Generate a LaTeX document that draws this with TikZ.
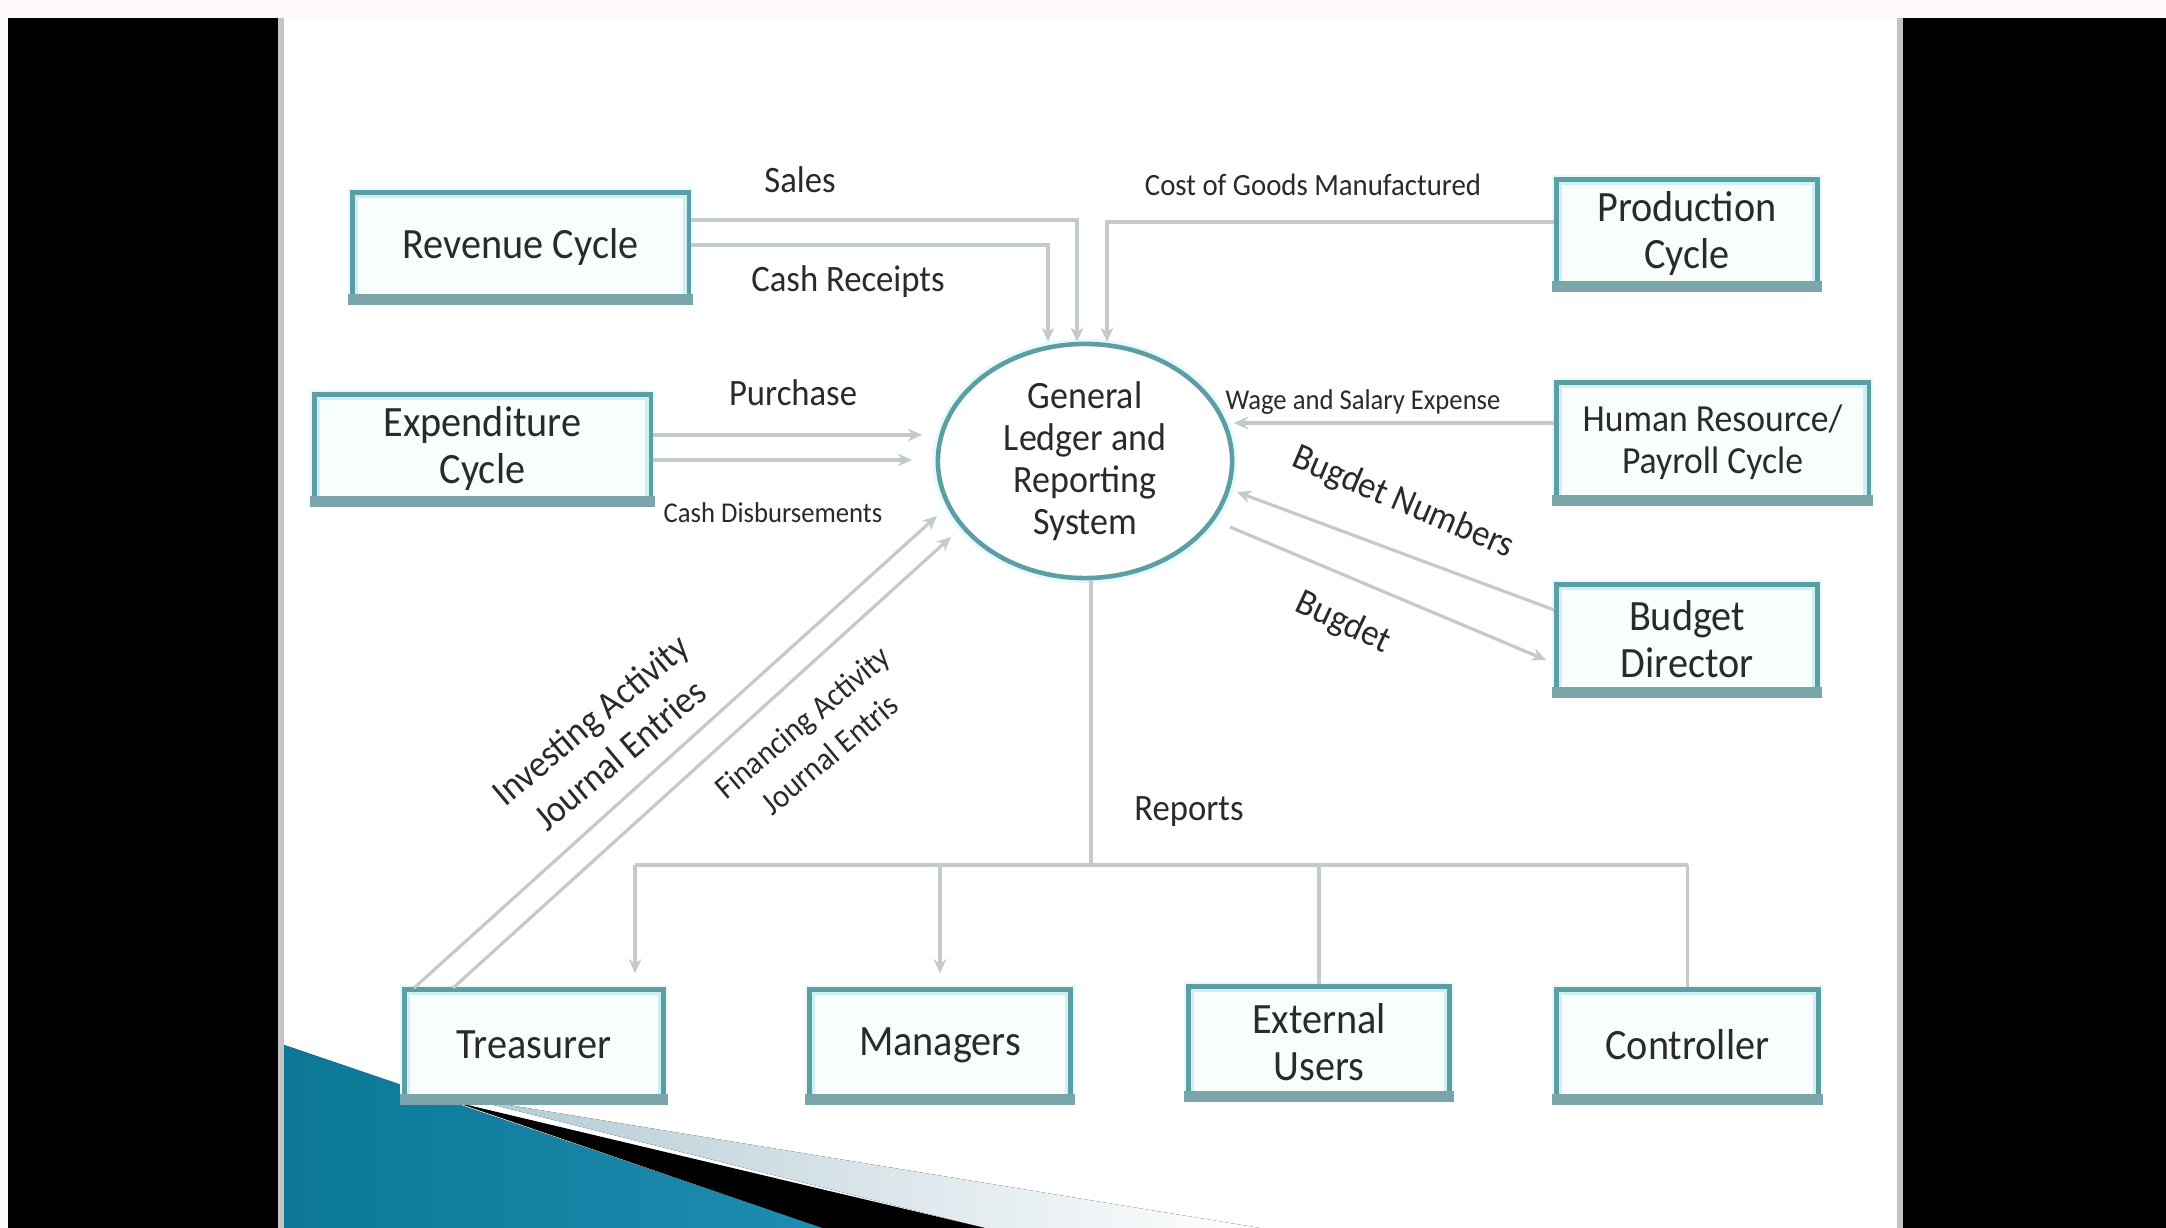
\documentclass[tikz,border=0pt]{standalone}
\usepackage{fontspec}
\setmainfont{Carlito}[FakeStretch=0.93]
\usetikzlibrary{arrows.meta,shapes.geometric}
\definecolor{boxteal}{HTML}{5C9EA3}
\definecolor{boxfill}{HTML}{F8FEFE}
\definecolor{boxin}{HTML}{CCF1F3}
\definecolor{boxbot}{HTML}{7AA5AA}
\definecolor{halo}{HTML}{E6FAFB}
\definecolor{lnc}{HTML}{C2CACA}
\definecolor{txt}{HTML}{2A2A2A}
\definecolor{topc}{HTML}{FCF8FB}
\definecolor{grl}{HTML}{C4C4C4}
\definecolor{blA}{HTML}{0C7896}
\definecolor{blB}{HTML}{55B9DA}
\definecolor{blC}{HTML}{1E8CB2}
\definecolor{lgt}{HTML}{B3CAD4}
\newcommand\bxf{\fontsize{12.3}{13.4}\selectfont}
\newcommand\hrf{\fontsize{10.9}{12}\selectfont}
\newcommand\glf{\fontsize{11}{12}\selectfont}
\newcommand\labf{\fontsize{10.6}{12}\selectfont}
\newcommand\smf{\fontsize{8.8}{10}\selectfont}
\newcommand\xsf{\fontsize{8.15}{9}\selectfont}
\newcommand\ivf{\fontsize{10.8}{13}\selectfont}
\newcommand\fif{\fontsize{9.3}{12}\selectfont}
\begin{document}
\begin{tikzpicture}[x=0.01cm,y=-0.01cm,
  box/.style={rectangle, draw=boxteal, line width=1.5pt, fill=boxfill, inner sep=0pt,
    align=center, text=txt, font=\bxf, preaction={draw=halo, line width=2.6pt}},
  lab/.style={inner sep=0pt, text=txt, font=\labf, align=center},
  arr/.style={draw=lnc, line width=0.9pt, -{Stealth[length=4pt,width=3.6pt]}},
  ln/.style={draw=lnc, line width=0.9pt}]
\useasboundingbox (0,0) rectangle (2166,1228);
% frame
\fill[topc] (0,0) rectangle (2166,1228);
\fill[black] (8,18) rectangle (278,1228);
\fill[grl] (278,18) rectangle (284,1228);
\fill[white] (284,18) rectangle (1897,1228);
\fill[grl] (1897,18) rectangle (1903,1228);
\fill[black] (1903,18) rectangle (2166,1228);
% corner decoration
\fill[left color=lgt, right color=white] (466,1098) -- (1260,1228) -- (985,1228) -- cycle;
\fill[black] (455,1102) -- (985,1228) -- (822,1228) -- cycle;
\fill[left color=blA, middle color=blB, right color=blC] (284,1045) -- (822,1228) -- (284,1228) -- cycle;
% nodes
\node[box, minimum width=3.35cm, minimum height=1.07cm] (rev) at (520.5,246.5) {Revenue Cycle};
\node[box, minimum width=3.35cm, minimum height=1.07cm] (exp) at (482.5,448.5) {Expenditure\\Cycle};
\node[box, minimum width=2.60cm, minimum height=1.07cm] (prod) at (1687,233.5) {Production\\Cycle};
\node[box, minimum width=3.11cm, minimum height=1.18cm, font=\hrf] (hr) at (1712.5,442) {Human Resource/\\Payroll Cycle};
\node[box, minimum width=2.60cm, minimum height=1.08cm] (bud) at (1687,639) {Budget\\Director};
\node[box, minimum width=2.58cm, minimum height=1.10cm] (tre) at (534,1045) {Treasurer};
\node[box, minimum width=2.60cm, minimum height=1.10cm] (man) at (940,1045) {Managers};
\node[box, minimum width=2.60cm, minimum height=1.10cm] (ext) at (1319,1042) {External\\Users};
\node[box, minimum width=2.61cm, minimum height=1.10cm] (con) at (1687.5,1045) {Controller};
\foreach \n in {rev,exp,prod,hr,bud,tre,man,ext,con}{
  \draw[boxin, line width=1pt] ([shift={(6,-6)}]\n.south west) rectangle ([shift={(-6,6)}]\n.north east);
  \fill[boxbot] ([shift={(-2.6,2.6)}]\n.south west) rectangle ([shift={(2.6,-9)}]\n.south east);
}
\node[ellipse, draw=boxteal, line width=1.3pt, fill=white, preaction={draw=halo, line width=3pt},
  minimum width=2.94cm, minimum height=2.34cm, inner sep=0pt, align=center, text=txt, font=\glf]
  (gl) at (1085,461) {General\\Ledger and\\Reporting\\System};
% coordinates
\coordinate (sa) at (1077,220);
\coordinate (cr) at (1048,245);
\coordinate (cg) at (1107,222);
\coordinate (pu) at (922,435);
\coordinate (cd) at (912,460);
\coordinate (wa) at (1234,423);
\coordinate (bnS) at (1553,610);
\coordinate (bnE) at (1237,492);
\coordinate (bgS) at (1230,527);
\coordinate (bgE) at (1546,660);
\coordinate (ivS) at (414,988);
\coordinate (ivE) at (937,516);
\coordinate (fiS) at (453,988);
\coordinate (fiE) at (951,537);
\coordinate (rp) at (1091,865);
\coordinate (rl) at (635,865);
\coordinate (rr) at (1687.5,865);
% connectors
\draw[arr] (rev.east|-sa) -- (sa) -- (sa|-gl.north);
\draw[arr] (rev.east|-cr) -- (cr) -- (cr|-gl.north);
\draw[arr] (prod.west|-cg) -- (cg) -- (cg|-gl.north);
\draw[arr] (exp.east|-pu) -- (pu);
\draw[arr] (exp.east|-cd) -- (cd);
\draw[arr] (hr.west|-wa) -- (wa);
\draw[arr] (bud.west|-bnS) -- (bnE);
\draw[arr] (bgS) -- (bgE);
\draw[arr] (ivS) -- (ivE);
\draw[arr] (fiS) -- (fiE);
\draw[ln] (rp|-gl.south) -- (rp);
\draw[ln] (rl) -- (rr);
\draw[arr, shorten >=4pt] (rl) -- (rl|-tre.north);
\draw[arr, shorten >=4pt] (man.north|-rl) -- (man.north);
\draw[ln] (ext.north|-rl) -- (ext.north);
\draw[ln] (con.north|-rl) -- (con.north);
% labels
\node[lab] (lsales) at (800,180) {Sales};
\node[lab] (lcr) at (848,282) {Cash Receipts};
\node[lab, font=\smf] (lcg) at (1313,185) {Cost of Goods Manufactured};
\node[lab] (lpu) at (793,393) {Purchase};
\node[lab, font=\xsf] (lcd) at (773,513) {Cash Disbursements};
\node[lab, font=\xsf] (lwa) at (1363,402) {Wage and Salary Expense};
\node[lab, rotate=-23] (lbn) at (1403,503) {Bugdet Numbers};
\node[lab, rotate=-25] (lbg) at (1343,623) {Bugdet};
\node[lab, rotate=40, font=\ivf] (liv) at (605,737) {Investing Activity\\Journal Entries};
\node[lab, rotate=40, font=\fif] (lfi) at (816,738) {Financing Activity\\Journal Entris};
\node[lab] (lrp) at (1189,812) {Reports};
\end{tikzpicture}
\end{document}
